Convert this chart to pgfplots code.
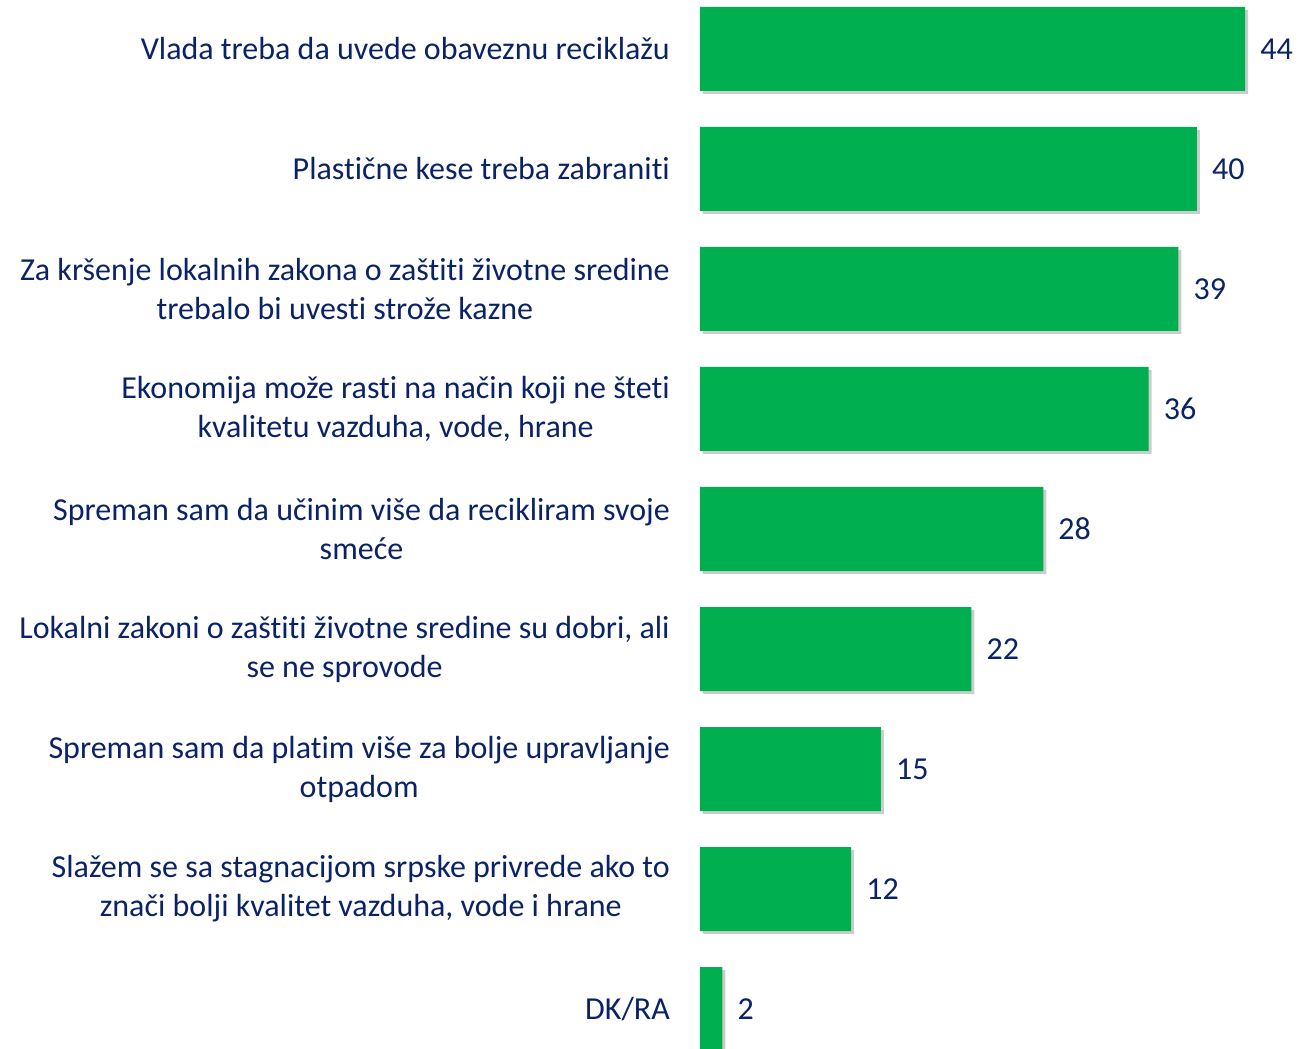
\documentclass[border=0pt]{standalone}
\usepackage{fontspec}
\setmainfont{Carlito}[Ligatures=NoCommon]
\usepackage{pgfplots}
\pgfplotsset{compat=1.18}
\usetikzlibrary{shadows}
\definecolor{bargreen}{HTML}{00B050}
\definecolor{navy}{HTML}{0B2366}
\begin{document}
\begin{tikzpicture}
\begin{axis}[
  at={(700pt,0pt)}, anchor=south west,
  scale only axis,
  width=601pt, height=1049pt,
  xbar, bar width=0.7,
  xmin=0, xmax=48.5,
  ymin=-0.408, ymax=8.333,
  y dir=reverse,
  axis line style={draw=none},
  xtick=\empty,
  ytick={0,1,2,3,4,5,6,7,8},
  major tick length=0pt,
  yticklabels={
    {Vlada treba da uvede obaveznu reciklažu},
    {Plastične kese treba zabraniti},
    {Za kršenje lokalnih zakona o zaštiti životne sredine\\trebalo bi uvesti strože kazne},
    {Ekonomija može rasti na način koji ne šteti\\kvalitetu vazduha, vode, hrane},
    {Spreman sam da učinim više da recikliram svoje\\smeće},
    {Lokalni zakoni o zaštiti životne sredine su dobri, ali\\se ne sprovode},
    {Spreman sam da platim više za bolje upravljanje\\otpadom},
    {Slažem se sa stagnacijom srpske privrede ako to\\znači bolji kvalitet vazduha, vode i hrane},
    {DK/RA}},
  yticklabel style={font=\fontsize{32}{39}\selectfont, text=navy, align=center, anchor=east, inner sep=0pt, xshift=-30pt},
  nodes near coords={\pgfmathprintnumber[fixed,precision=0,assume math mode=true]{\pgfplotspointmeta}},
  nodes near coords style={font=\fontsize{32}{39}\selectfont, text=navy, anchor=west, inner sep=0pt, xshift=15pt},
  clip=true,
]
\addplot[fill=bargreen, draw=none, drop shadow={shadow xshift=3pt, shadow yshift=-3pt, fill=black, opacity=0.2}] coordinates {
  (44,0) (40.1,1) (38.6,2) (36.2,3) (27.7,4) (21.9,5) (14.6,6) (12.2,7) (1.8,8)};
\end{axis}
\pgfresetboundingbox
\useasboundingbox (0,0) rectangle (1301pt,1049pt);
\end{tikzpicture}
\end{document}
